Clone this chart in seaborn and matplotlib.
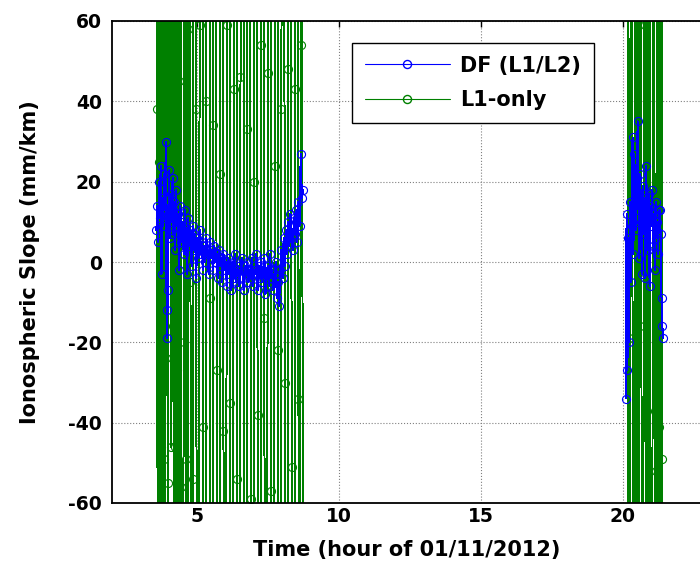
import matplotlib
matplotlib.use("Agg")
import matplotlib.pyplot as plt
import pandas as pd
import seaborn as sns
from matplotlib.lines import Line2D

# ---------------- data ----------------
# morning pass, hour of day
morning_time = [
    3.58, 3.61, 3.64, 3.67, 3.70, 3.73, 3.76, 3.79, 3.82, 3.85,
    3.88, 3.91, 3.94, 3.96, 3.98, 4.00, 4.03, 4.06, 4.09, 4.12,
    4.15, 4.18, 4.21, 4.24, 4.27, 4.30, 4.34, 4.38, 4.42, 4.46,
    4.50, 4.54, 4.58, 4.62, 4.66, 4.70, 4.74, 4.78, 4.82, 4.86,
    4.90, 4.94, 4.98, 5.02, 5.06, 5.10, 5.14, 5.18, 5.22, 5.26,
    5.30, 5.34, 5.38, 5.42, 5.46, 5.50, 5.54, 5.58, 5.62, 5.66,
    5.70, 5.74, 5.78, 5.82, 5.86, 5.90, 5.94, 5.98, 6.02, 6.06,
    6.10, 6.14, 6.18, 6.22, 6.26, 6.30, 6.34, 6.38, 6.42, 6.46,
    6.50, 6.54, 6.58, 6.62, 6.66, 6.70, 6.74, 6.78, 6.82, 6.86,
    6.90, 6.94, 6.98, 7.02, 7.06, 7.10, 7.14, 7.18, 7.22, 7.26,
    7.30, 7.34, 7.38, 7.42, 7.46, 7.50, 7.54, 7.58, 7.62, 7.66,
    7.70, 7.74, 7.78, 7.82, 7.86, 7.90, 7.94, 7.98, 8.02, 8.06,
    8.10, 8.14, 8.18, 8.22, 8.26, 8.30, 8.34, 8.38, 8.42, 8.46,
    8.50, 8.54, 8.58, 8.62, 8.66, 8.70, 8.74,
]
morning_df = [
    8, 14, 5, 20, 11, 24, -3, 16, 9, 22,
    13, 30, -12, -19, -7, 12, 23, 6, 17, 10,
    21, 7, 15, 3, 18, 9, 12, -2, 14, 5,
    10, 2, 13, 6, -3, 11, 4, 8, -1, 9,
    3, 7, -4, 6, 1, 8, 2, 5, -2, 4,
    0, 6, 2, -3, 5, 1, 3, -2, 4, 0,
    2, -4, 3, -1, 1, -5, 2, -2, 0, -6,
    1, -3, -1, -7, 0, -4, 2, -5, -2, -1,
    -6, -2, 1, -4, -7, -1, -3, 0, -5, -2,
    -4, 1, -6, -2, -3, 2, -7, -1, -4, 0,
    -5, -2, 1, -8, -3, -1, -6, 2, -4, -2,
    -7, -3, 0, -9, -5, -11, -2, 3, -4, 6,
    -1, 8, 2, 10, 4, 12, 6, 3, 11, 7,
    13, 5, 15, 9, 27, 16, 18,
]
morning_l1 = [
    280, 38, -250, 25, 260, -3, -270, 45, 240, -49,
    -230, 54, 290, 280, -240, -55, 270, 260, -46, -24,
    250, -16, -270, -46, 230, -27, -260, 45, 240, -56,
    -250, -20, 260, -49, -240, 58, 270, -5, -280, -54,
    260, 280, 38, -240, -270, 59, 250, 230, -41, -260,
    -250, 40, 270, 260, -9, -230, -280, 34, 240, 250,
    -27, -260, -240, 22, 280, 270, -42, -250, -230, 59,
    260, 240, -35, -280, -250, 43, 230, 270, -54, -260,
    -240, 46, 250, 280, -7, -230, -270, 33, 260, 240,
    -59, -250, -280, 20, 270, 250, -38, -240, -260, 54,
    230, 260, -14, -270, -250, 47, 280, 240, -57, -230,
    -260, 24, 250, 270, -22, -240, -280, 38, 260, 230,
    -30, -250, -270, 48, 240, 260, -51, -230, -260, 43,
    270, 250, -34, -240, 54, 280, -220,
]

# evening pass
evening_time = [
    20.10, 20.13, 20.16, 20.19, 20.22, 20.25, 20.28, 20.31, 20.34, 20.37,
    20.40, 20.43, 20.46, 20.49, 20.52, 20.55, 20.58, 20.61, 20.64, 20.67,
    20.70, 20.73, 20.76, 20.79, 20.82, 20.85, 20.88, 20.91, 20.94, 20.97,
    21.00, 21.03, 21.06, 21.09, 21.12, 21.15, 21.18, 21.21, 21.24, 21.27,
    21.30, 21.33, 21.36, 21.39, 21.42,
]
evening_df = [
    -34, 12, -27, 6, -20, 15, -5, 9, 31, 2,
    27, 18, 8, 21, 35, 13, 1, 22, 10, -3,
    19, 7, 16, -4, 24, 11, 3, 17, -6, 14,
    9, 18, 4, 12, -2, 15, 6, 10, 2, 13,
    13, 7, -9, -16, -19,
]
evening_l1 = [
    250, 230, 260, -270, -250, -240, 240, 260, -19, -240,
    -260, 270, 250, 240, -250, -230, 59, 260, 240, -280,
    -240, -16, 270, 250, -260, -230, -250, 280, 260, -52,
    -250, -260, 240, 230, -37, -270, -250, 250, 260, -41,
    -260, -240, 250, -49, -240,
]

series_labels = ["DF (L1/L2)", "L1-only"]
x_ticks = [5, 10, 15, 20]
y_ticks = [-60, -40, -20, 0, 20, 40, 60]
x_label = "Time (hour of 01/11/2012)"
y_label = "Ionospheric Slope (mm/km)"

# ---------------- table ----------------
frames = []
for seg, (t, d, l) in enumerate([(morning_time, morning_df, morning_l1),
                                 (evening_time, evening_df, evening_l1)]):
    assert len(t) == len(d) == len(l)
    frames.append(pd.DataFrame({"time": t, "value": d,
                                "series": series_labels[0], "segment": seg}))
    frames.append(pd.DataFrame({"time": t, "value": l,
                                "series": series_labels[1], "segment": seg}))
data = pd.concat(frames, ignore_index=True)

# ---------------- style ----------------
sns.set_theme(style="white")
plt.rcParams.update({
    "font.family": ["DejaVu Sans"],
    "font.weight": "bold",
    "axes.labelweight": "bold",
    "axes.unicode_minus": False,
    "text.color": "black",
    "axes.labelcolor": "black",
    "xtick.color": "black",
    "ytick.color": "black",
})

BLUE = (0, 0, 1)
GREEN = (0, 0.5, 0)

fig = plt.figure(figsize=(7, 5.72), dpi=100)
W, H = 700, 572
ax_left, ax_top, ax_bottom = 111.5, 21, 503
ax_width = 589.5
ax = fig.add_axes([ax_left / W, (H - ax_bottom) / H, ax_width / W,
                   (ax_bottom - ax_top) / H])

common = dict(x="time", y="value", units="segment", estimator=None,
              sort=False, marker="o", markersize=5.8, markerfacecolor="none",
              markeredgewidth=0.8, linewidth=0.72, legend=False, ax=ax,
              antialiased=False)
sns.lineplot(data=data[data.series == series_labels[1]], color=GREEN,
             markeredgecolor=GREEN, zorder=2, **common)
sns.lineplot(data=data[data.series == series_labels[0]], color=BLUE,
             markeredgecolor=BLUE, zorder=3, **common)

ax.set_xlim(2, 22.75)
ax.set_ylim(-60, 60)
ax.set_xticks(x_ticks)
ax.set_yticks(y_ticks)
ax.grid(True, color="0.5", linestyle=":", linewidth=0.8)
ax.set_axisbelow(True)
ax.tick_params(direction="in", length=4, width=1, top=True, right=False,
               labelsize=13.5, colors="black")
ax.tick_params(axis="x", pad=3)
ax.tick_params(axis="y", pad=7)
for s in ax.spines.values():
    s.set_color("black")
    s.set_linewidth(1.3)

ax.set_xlabel(x_label, fontsize=15, fontweight="bold", labelpad=10)
ax.set_ylabel(y_label, fontsize=15, fontweight="bold")
ax.yaxis.set_label_coords(-0.122, 0.5)

handles = [
    Line2D([], [], color=BLUE, lw=0.8, marker="o", markersize=5.8,
           markerfacecolor="none", markeredgecolor=BLUE),
    Line2D([], [], color=GREEN, lw=0.8, marker="o", markersize=5.8,
           markerfacecolor="none", markeredgecolor=GREEN),
]
leg = ax.legend(handles, series_labels, loc="upper left",
                bbox_to_anchor=(0.408, 0.954), borderaxespad=0,
                frameon=True, fancybox=False, edgecolor="black",
                framealpha=1, prop={"weight": "bold", "size": 15},
                handlelength=4.1, handletextpad=0.5, borderpad=0.6,
                labelspacing=0.7)
leg.get_frame().set_linewidth(1.0)

fig.savefig("out.png", dpi=100)
